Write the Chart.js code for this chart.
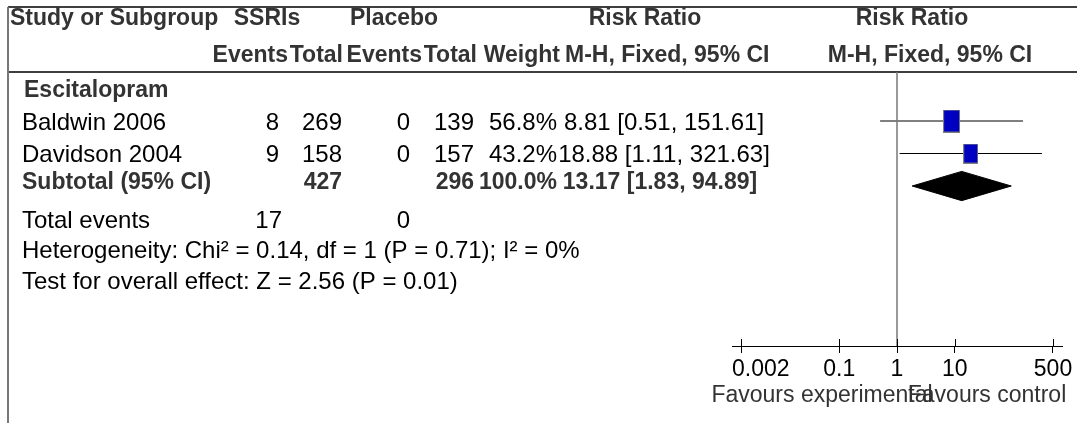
<!DOCTYPE html>
<html><head><meta charset="utf-8">
<script src="https://cdn.jsdelivr.net/npm/chart.js@4.4.1/dist/chart.umd.min.js"></script>
<style>html,body{margin:0;padding:0;background:#fff;}#wrap{position:relative;width:1077px;height:423px;}</style>
</head><body><div id="wrap"><canvas id="c"></canvas></div>
<script>
// ---- data ----
const subgroup = 'Escitalopram';
const studies = ['Baldwin 2006', 'Davidson 2004'];
const ssriEvents = [8, 9];
const ssriTotal = [269, 158];
const placeboEvents = [0, 0];
const placeboTotal = [139, 157];
const weights = [56.8, 43.2];
const riskRatio = [8.81, 18.88];
const ciLower = [0.51, 1.11];
const ciUpper = [151.61, 321.63];
const pooled = [13.17, 1.83, 94.89];          // estimate, lower, upper
const subtotalTotals = [427, 296];            // SSRIs, Placebo
const subtotalWeight = 100.0;
const totalEvents = [17, 0];
const heterogeneityText = 'Heterogeneity: Chi\u00B2 = 0.14, df = 1 (P = 0.71); I\u00B2 = 0%';
const overallText = 'Test for overall effect: Z = 2.56 (P = 0.01)';
const tickValues = [0.002, 0.1, 1, 10, 500];
const tickLabels = ['0.002', '0.1', '1', '10', '500'];
const studyRows = [1, 2];
const pooledRow = 3;
const textRows = { subgroup: 0, subtotal: 2.82, totalEvents: 4.03, het: 4.96, test: 5.89 };

// ---- helpers ----
const FAM = '"Liberation Sans", Arial, sans-serif';
function box(weight) {
  const w = Math.round(2.27 * Math.sqrt(weight)), h = Math.round(3.05 * Math.sqrt(weight));
  const c = document.createElement('canvas'); c.width = w; c.height = h;
  const g = c.getContext('2d');
  g.fillStyle = '#0000c0'; g.fillRect(0, 0, w, h);
  g.strokeStyle = '#808080'; g.lineWidth = 1; g.strokeRect(0.5, 0.5, w - 1, h - 1);
  return c;
}
function fmtCI(e, l, u) { return e.toFixed(2) + ' [' + l.toFixed(2) + ', ' + u.toFixed(2) + ']'; }

const datasets = [];
datasets.push({
  type: 'scatter', label: 'studies',
  data: studies.map((s, i) => ({ x: riskRatio[i], y: studyRows[i] })),
  pointStyle: weights.map(box), pointRadius: 5, showLine: false
});
studies.forEach((s, i) => {
  datasets.push({
    type: 'line', label: s + ' CI',
    data: [{ x: ciLower[i], y: studyRows[i] }, { x: ciUpper[i], y: studyRows[i] }],
    borderColor: '#000', borderWidth: 1, pointRadius: 0, fill: false, tension: 0
  });
});
const dh = 0.45;
datasets.push({
  type: 'line', label: 'pooled',
  data: [{ x: pooled[1], y: pooledRow }, { x: pooled[0], y: pooledRow - dh }, { x: pooled[2], y: pooledRow },
         { x: pooled[0], y: pooledRow + dh }, { x: pooled[1], y: pooledRow }],
  borderColor: '#000', borderWidth: 1, backgroundColor: '#000', fill: 'shape', pointRadius: 0, tension: 0
});

function txt(ctx, s, x, y, align, bold, color, size) {
  ctx.font = (bold ? 'bold ' : '') + (size || 24) + 'px ' + FAM;
  ctx.fillStyle = color || '#000';
  ctx.textAlign = align || 'left';
  ctx.textBaseline = 'middle';
  ctx.fillText(s, x, y);
}

const forestPlugin = {
  id: 'forest',
  afterDraw(chart) {
    const ctx = chart.ctx, xs = chart.scales.x, ys = chart.scales.y, ca = chart.chartArea;
    const Y = v => ys.getPixelForValue(v) + 2;
    ctx.save();
    // frame lines
    ctx.strokeStyle = '#000'; ctx.lineWidth = 1.5;
    ctx.beginPath(); ctx.moveTo(8, 7); ctx.lineTo(1077, 7); ctx.moveTo(8, 72); ctx.lineTo(1077, 72); ctx.stroke();
    ctx.strokeStyle = '#777'; ctx.lineWidth = 2;
    ctx.beginPath(); ctx.moveTo(8, 7); ctx.lineTo(8, 423); ctx.stroke();
    const x1 = xs.getPixelForValue(1);
    ctx.lineWidth = 1.5;
    ctx.beginPath(); ctx.moveTo(x1, 72); ctx.lineTo(x1, ca.bottom); ctx.stroke();
    // upper tick stubs and tick labels
    ctx.strokeStyle = '#000'; ctx.lineWidth = 1;
    ctx.beginPath();
    tickValues.forEach(v => { const p = Math.round(xs.getPixelForValue(v)) + 0.5; ctx.moveTo(p, ca.bottom - 7); ctx.lineTo(p, ca.bottom); });
    ctx.stroke();
    ctx.font = '23px ' + FAM;
    tickValues.forEach((v, i) => {
      const p = xs.getPixelForValue(v);
      const w = ctx.measureText(tickLabels[i]).width;
      let left = p - w / 2;
      if (left < ca.left) left = ca.left;
      txt(ctx, tickLabels[i], left, 370, 'left', false, '#000', 23);
    });
    // headers
    const HB = '#333';
    txt(ctx, 'Study or Subgroup', 10, 19, 'left', true, HB, 23);
    txt(ctx, 'SSRIs', 267, 19, 'center', true, HB, 23);
    txt(ctx, 'Placebo', 394, 19, 'center', true, HB, 23);
    txt(ctx, 'Risk Ratio', 645, 19, 'center', true, HB, 23);
    txt(ctx, 'Risk Ratio', 912, 19, 'center', true, HB, 23);
    txt(ctx, 'Events', 288, 56, 'right', true, HB, 23);
    txt(ctx, 'Total', 343, 56, 'right', true, HB, 23);
    txt(ctx, 'Events', 422, 56, 'right', true, HB, 23);
    txt(ctx, 'Total', 477, 56, 'right', true, HB, 23);
    txt(ctx, 'Weight', 560, 56, 'right', true, HB, 23);
    txt(ctx, 'M-H, Fixed, 95% CI', 565, 56, 'left', true, HB, 23);
    txt(ctx, 'M-H, Fixed, 95% CI', 930, 56, 'center', true, HB, 23);
    // subgroup
    txt(ctx, subgroup, 24, Y(textRows.subgroup), 'left', true, HB, 23);
    studies.forEach((s, i) => {
      const y = Y(studyRows[i]);
      txt(ctx, s, 22, y, 'left');
      txt(ctx, String(ssriEvents[i]), 279, y, 'right');
      txt(ctx, String(ssriTotal[i]), 342, y, 'right');
      txt(ctx, String(placeboEvents[i]), 410, y, 'right');
      txt(ctx, String(placeboTotal[i]), 474, y, 'right');
      txt(ctx, weights[i].toFixed(1) + '%', 557, y, 'right');
      txt(ctx, fmtCI(riskRatio[i], ciLower[i], ciUpper[i]), 664, y, 'center');
    });
    const ys2 = Y(textRows.subtotal);
    txt(ctx, 'Subtotal (95% CI)', 22, ys2, 'left', true, HB, 23);
    txt(ctx, String(subtotalTotals[0]), 342, ys2, 'right', true, HB, 23);
    txt(ctx, String(subtotalTotals[1]), 474, ys2, 'right', true, HB, 23);
    txt(ctx, subtotalWeight.toFixed(1) + '%', 557, ys2, 'right', true, HB, 23);
    txt(ctx, fmtCI(pooled[0], pooled[1], pooled[2]), 660, ys2, 'center', true, HB, 23);
    const yt = Y(textRows.totalEvents);
    txt(ctx, 'Total events', 22, yt, 'left');
    txt(ctx, String(totalEvents[0]), 282, yt, 'right');
    txt(ctx, String(totalEvents[1]), 410, yt, 'right');
    txt(ctx, heterogeneityText, 22, Y(textRows.het), 'left');
    txt(ctx, overallText, 22, Y(textRows.test), 'left');
    // favours labels
    txt(ctx, 'Favours experimental', 822, 396, 'center', false, '#333', 23);
    txt(ctx, 'Favours control', 987, 396, 'center', false, '#333', 23);
    ctx.restore();
  }
};

new Chart(document.getElementById('c'), {
  type: 'scatter',
  data: { datasets },
  options: {
    responsive: true, maintainAspectRatio: false, devicePixelRatio: 1, animation: false,
    layout: { padding: { left: 732, right: 15, top: 72, bottom: 0 } },
    plugins: { legend: { display: false }, tooltip: { enabled: false } },
    scales: {
      x: {
        type: 'logarithmic', min: 1 / 716, max: 716,
        afterBuildTicks: s => { s.ticks = tickValues.map(v => ({ value: v })); },
        afterFit: s => { s.height = 77; },
        ticks: { display: false, autoSkip: false, maxRotation: 0 },
        grid: { drawOnChartArea: false, drawTicks: true, tickLength: 7, color: '#000', lineWidth: 1 },
        border: { display: true, color: '#000', width: 1 }
      },
      y: { type: 'linear', reverse: true, min: -0.508, max: 7.923, display: false }
    }
  },
  plugins: [forestPlugin]
});
</script>
</body></html>
